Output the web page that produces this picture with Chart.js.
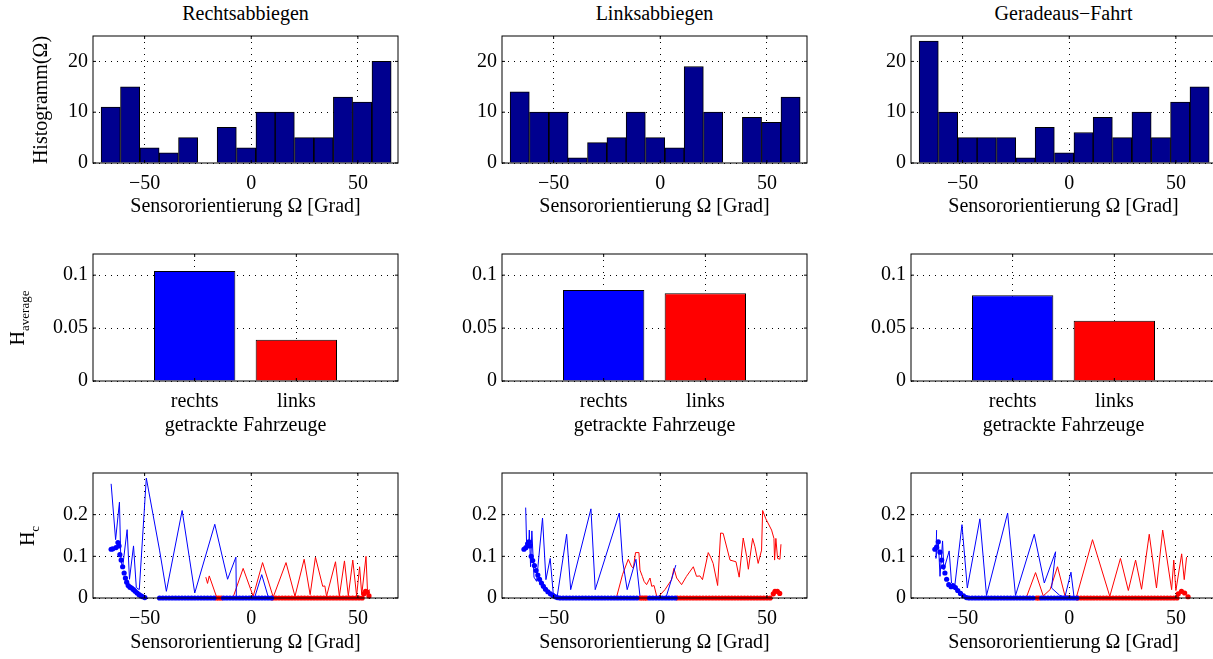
<!DOCTYPE html>
<html>
<head>
<meta charset="utf-8">
<script src="https://cdn.jsdelivr.net/npm/chart.js@4.4.0/dist/chart.umd.min.js"></script>
<style>
html, body { margin: 0; padding: 0; background: #fff; overflow: hidden; }
body { width: 1213px; height: 659px; position: relative; font-family: "Liberation Serif", "Times New Roman", serif; }
canvas { position: absolute; }
.lbl { position: absolute; z-index: 2; font-size: 20px; line-height: 24px; white-space: nowrap; color: #000; transform: translateX(-50%); }
.ylbl { position: absolute; z-index: 2; font-size: 20px; line-height: 24px; white-space: nowrap; color: #000; transform: translate(-50%, -50%) rotate(-90deg); }
.ylbl sub { font-size: 13px; line-height: 0; vertical-align: -5px; }
</style>
</head>
<body>
<script>
// ---- data ----
var panelTitles = ['Rechtsabbiegen', 'Linksabbiegen', 'Geradeaus\u2212Fahrt'];

var binCenters = [-65.9, -56.8, -47.7, -38.7, -29.6, -20.5, -11.5, -2.4, 6.7, 15.7, 24.8, 33.9, 43.0, 52.0, 61.1];
var histRechts = [11, 15, 3, 2, 5, 0, 7, 3, 10, 10, 5, 5, 13, 12, 20];
var histLinks  = [14, 10, 10, 1, 4, 5, 10, 5, 3, 19, 10, 0, 9, 8, 13];
var histGerade = [24, 10, 5, 5, 5, 1, 7, 2, 6, 9, 5, 10, 5, 12, 15];

var vehicleLabels = ['rechts', 'links'];
var avgRechts = [0.104, 0.039];
var avgLinks  = [0.086, 0.083];
var avgGerade = [0.081, 0.057];

var angleTicks = [-50, 0, 50];
var histTicks = [0, 10, 20];
var avgTicks = [0, 0.05, 0.1];
var hcTicks = [0, 0.1, 0.2];

// bottom row, Rechtsabbiegen
var rechtsBlueLine = [[-65.7,0.274],[-63.6,0.14],[-61.8,0.23],[-61.2,0.10],[-60.4,0.07],[-58.2,0.164],[-57.1,0.045],
  [-55.2,0.125],[-53.9,0.025],[-52.5,0.02],[-49.2,0.288],[-43,0.115],[-39.8,0.016],[-32.4,0.21],[-26.5,0.012],[-17.1,0.177],
  [-11.1,0.045],[-7.2,0.098],[-7.0,0.003],[1.7,0.003],[4.9,0.056],[8,0.002]];
var rechtsBlueDots = [[-65.7,0.117],[-64.9,0.118],[-63.4,0.121],[-62.5,0.133],[-62.0,0.125],[-61.6,0.104],[-61.0,0.091],
  [-60.3,0.075],[-59.6,0.06],[-59.0,0.048],[-58.4,0.038],[-57.7,0.03],[-56.9,0.026],[-56.1,0.024],[-55.2,0.02],[-54.4,0.016],
  [-53.5,0.012],[-52.6,0.008],[-51.7,0.005],[-50.8,0.003],[-49.9,0.001],
  [-43,0],[-41.5,0],[-40,0],[-38.5,0],[-37,0],[-35.5,0],[-34,0],[-32.5,0],[-31,0],[-29.5,0],[-28,0],[-26.5,0],[-25,0],
  [-23.5,0],[-22,0],[-20.5,0],[-19,0],[-17.5,0],[-13,0],[-11.5,0],[-10,0],[-8.5,0],[-7,0],[-5.5,0],[-4,0],[-2.5,0],
  [-1,0],[0.5,0],[2,0],[3.5,0],[5,0],[6.5,0],[8,0],[9.5,0]];
var rechtsRedLine = [[-21.3,0.05],[-20.5,0.035],[-19.7,0.053],[-16.3,0.003],[-8.5,0.002],[-3.8,0.071],[0.9,0.004],[5.3,0.085],
  [10.3,0.002],[16.3,0.085],[20.5,0.004],[24.8,0.093],[27.6,0.008],[30.1,0.098],[33.5,0.028],[34.5,0.029],[35.3,0.004],
  [39.5,0.087],[41.3,0.004],[43.7,0.089],[45.5,0.005],[47.6,0.091],[49.4,0.005],[50.8,0.075],[51.8,0.008],[53.8,0.1],
  [54.5,0.016],[55.7,0.02]];
var rechtsRedDots = [[-16.3,0],[-15.2,0],[-14.1,0],
  [10,0],[11.5,0],[13,0],[14.5,0],[16,0],[17.5,0],[19,0],[20.5,0],[22,0],[23.5,0],[25,0],[26.5,0],[28,0],[29.5,0],
  [31,0],[32.5,0],[34,0],[35.5,0],[37,0],[38.5,0],[40,0],[41.5,0],[43,0],[44.5,0],[46,0],[47.5,0],[49,0],[50.5,0],
  [52,0],[52.8,0.01],[53.6,0.016],[54.4,0.014],[55.2,0.005]];

// bottom row, Linksabbiegen
var linksBlueLine = [[-63.1,0.217],[-62.6,0.115],[-61.6,0.135],[-61.4,0.163],[-60.8,0.075],[-60.2,0.161],[-59.2,0.05],
  [-58.0,0.04],[-55.2,0.192],[-53.6,0.044],[-51.6,0.095],[-50.2,0.012],[-48.3,0.004],[-43.9,0.153],[-42,0.02],[-32.5,0.214],
  [-30.5,0.02],[-19.2,0.204],[-17.7,0.091],[-15.5,0.02],[-11.4,0.093],[-9.5,0.004],[2.8,0.003],[7.3,0.079]];
var linksBlueDots = [[-63.9,0.117],[-63.0,0.121],[-62.2,0.13],[-61.6,0.135],[-61.1,0.125],[-60.5,0.1],[-59.8,0.09],
  [-59.0,0.078],[-58.2,0.066],[-57.4,0.055],[-56.6,0.045],[-55.7,0.036],[-54.8,0.028],[-53.8,0.021],[-52.7,0.015],
  [-51.5,0.01],[-50.3,0.006],[-49.2,0.003],[-48.3,0.001],
  [-47,0],[-45.5,0],[-44,0],[-42.5,0],[-41,0],[-39.5,0],[-38,0],[-36.5,0],[-35,0],[-33.5,0],[-32,0],[-30.5,0],[-29,0],
  [-27.5,0],[-26,0],[-24.5,0],[-23,0],[-21.5,0],[-20,0],[-18.5,0],[-17,0],[-15.5,0],[-14,0],[-12.5,0],[-11,0],
  [-5,0],[-3.5,0],[-2,0],[-0.5,0],[1,0],[2.5,0],[4,0],[5.5,0],[7,0]];
var linksRedLine = [[-20.5,0.002],[-17.7,0.056],[-15,0.093],[-13.4,0.075],[-12.6,0.072],[-11.6,0.109],[-10,0.109],
  [-9.5,0.067],[-8.4,0.052],[-7.6,0.04],[-6.4,0.032],[-4.8,0.048],[-4,0.028],[-2.9,0.03],[-1.7,0.005],[-0.9,0.003],
  [2.2,0.02],[5.3,0.044],[6.4,0.071],[7.7,0.048],[10,0.032],[12.3,0.052],[15.5,0.075],[17,0.052],[18.6,0.053],
  [19.8,0.044],[22.5,0.109],[23.6,0.098],[24.8,0.083],[26.9,0.03],[28.3,0.156],[29.5,0.155],[32.7,0.091],[35.5,0.087],
  [37,0.05],[38.9,0.144],[40.5,0.1],[41.3,0.069],[43.3,0.143],[44.4,0.123],[45.9,0.083],[47.5,0.115],[48,0.21],
  [49.5,0.19],[52.2,0.163],[53.3,0.143],[53.6,0.091],[54.2,0.143],[55,0.095],[56.1,0.093],[56.6,0.129]];
var linksRedDots = [[-9.5,0],[-8.4,0],[-7.3,0],[-6.4,0],
  [8,0],[9.5,0],[11,0],[12.5,0],[14,0],[15.5,0],[17,0],[18.5,0],[20,0],[21.5,0],[23,0],[24.5,0],[26,0],[27.5,0],
  [29,0],[30.5,0],[32,0],[33.5,0],[35,0],[36.5,0],[38,0],[39.5,0],[41,0],[42.5,0],[44,0],[45.5,0],[47,0],[48.5,0],
  [50,0],[51.5,0],[53,0.01],[53.8,0.016],[54.9,0.016],[56,0.011]];

// bottom row, Geradeaus-Fahrt
var geradeBlueLine = [[-62.2,0.163],[-62.5,0.095],[-61.4,0.139],[-60.6,0.052],[-59.4,0.137],[-58.8,0.068],[-56.3,0.113],
  [-55.2,0.036],[-53.6,0.032],[-50.3,0.176],[-47.8,0.024],[-41.9,0.19],[-38.8,0.006],[-28.9,0.204],[-25.2,0.006],
  [-16.4,0.153],[-11.7,0.036],[-6.4,0.111],[-8.3,0.024],[-4.4,0.006],[-2,0.003],[0.8,0.062],[2.2,0.004]];
var geradeBlueDots = [[-63,0.117],[-62.2,0.122],[-61.4,0.135],[-60.6,0.11],[-59.8,0.091],[-59.1,0.075],[-58.3,0.06],
  [-57.5,0.045],[-56.5,0.032],[-55.4,0.027],[-54.4,0.029],[-53.4,0.025],[-52.3,0.018],[-51.0,0.011],[-49.6,0.005],
  [-48.2,0.001],
  [-47,0],[-45.5,0],[-44,0],[-42.5,0],[-41,0],[-39.5,0],[-38,0],[-36.5,0],[-35,0],[-33.5,0],[-32,0],[-30.5,0],[-29,0],
  [-27.5,0],[-26,0],[-24.5,0],[-23,0],[-21.5,0],[-20,0],[-18.5,0],[-17,0],[-13,0],[-11.5,0],[-10,0],[-8.5,0],[-7,0],
  [-5.5,0],[-4,0],[-2.5,0],[-1,0],[0.5,0],[2,0],[3.5,0]];
var geradeRedLine = [[-20,0.003],[-15.8,0.061],[-12.2,0.005],[-9,0.02],[-5.5,0.075],[-2,0.005],[3.4,0.003],[10.9,0.14],
  [19,0.004],[24,0.095],[27.7,0.018],[31.1,0.091],[33.9,0.021],[37.5,0.153],[40.9,0.024],[43.8,0.163],[48,0.02],
  [49,0.091],[50,0.018],[52.7,0.106],[53.9,0.044],[55,0.098]];
var geradeRedDots = [[-15.3,0],[-14.3,0],
  [4,0],[5.5,0],[7,0],[8.5,0],[10,0],[11.5,0],[13,0],[14.5,0],[16,0],[17.5,0],[19,0],[20.5,0],[22,0],[23.5,0],
  [25,0],[26.5,0],[28,0],[29.5,0],[31,0],[32.5,0],[34,0],[35.5,0],[37,0],[38.5,0],[40,0],[41.5,0],[43,0],[44.5,0],
  [46,0],[47.5,0],[49,0],[50.5,0],[51.1,0.01],[52.6,0.016],[54.1,0.012],[55.7,0.003]];

// ---- layout ----
var colLeft = [93, 502, 911];
var rowTop = [36, 254, 473];
var rowH = [127, 127, 125];
var plotW = 305;
var FONT = '"Liberation Serif", "Times New Roman", serif';

Chart.defaults.color = '#000';
Chart.defaults.font.family = FONT;
Chart.defaults.font.size = 20;

function fmtAngle(v) { return v < 0 ? '\u2212' + (-v) : String(v); }

function scaleOpts(min, max, tickVals, fmt, isY) {
    return {
        type: 'linear', min: min, max: max, offset: false,
        afterBuildTicks: function (s) { s.ticks = tickVals.map(function (v) { return { value: v }; }); },
        afterFit: function (s) {
            if (isY) s.width = 70; else s.height = 40;
            s.paddingTop = 0; s.paddingBottom = 0; s.paddingLeft = 0; s.paddingRight = 0;
        },
        grid: { color: '#000', lineWidth: 1, drawTicks: false, offset: false, borderDash: [1, 5] },
        border: { display: false, dash: [1, 5] },
        ticks: { color: '#000', padding: isY ? 5 : 9, maxRotation: 0, autoSkip: false, callback: fmt }
    };
}

var framePlugin = {
    id: 'frame',
    afterDatasetsDraw: function (chart) {
        var ctx = chart.ctx, a = chart.chartArea, sx = chart.scales.x, sy = chart.scales.y;
        ctx.save();
        ctx.strokeStyle = '#000';
        ctx.lineWidth = 1;
        ctx.strokeRect(a.left, a.top, a.right - a.left, a.bottom - a.top);
        ctx.beginPath();
        sx.ticks.forEach(function (t) {
            var p = sx.getPixelForValue(t.value);
            ctx.moveTo(p, a.bottom); ctx.lineTo(p, a.bottom - 3);
            ctx.moveTo(p, a.top); ctx.lineTo(p, a.top + 3);
        });
        sy.ticks.forEach(function (t) {
            var p = sy.getPixelForValue(t.value);
            ctx.moveTo(a.left, p); ctx.lineTo(a.left + 3, p);
            ctx.moveTo(a.right, p); ctx.lineTo(a.right - 3, p);
        });
        ctx.stroke();
        ctx.restore();
    }
};

function makeChart(col, row, type, datasets, xs, ys) {
    var cv = document.createElement('canvas');
    var w = plotW + 70 + 15, h = rowH[row] + 50;
    cv.width = w; cv.height = h;
    cv.style.width = w + 'px'; cv.style.height = h + 'px';
    cv.style.left = (colLeft[col] - 70) + 'px';
    cv.style.top = (rowTop[row] - 10) + 'px';
    document.body.appendChild(cv);
    new Chart(cv.getContext('2d'), {
        type: type,
        data: { datasets: datasets },
        options: {
            responsive: false, animation: false, devicePixelRatio: 1,
            layout: { padding: { left: 0, right: 15, top: 10, bottom: 0 } },
            plugins: { legend: { display: false }, tooltip: { enabled: false }, title: { display: false } },
            scales: { x: xs, y: ys }
        },
        plugins: [framePlugin]
    });
}

function pts(arr) { return arr.map(function (p) { return { x: p[0], y: p[1] }; }); }

// top row: histograms
[histRechts, histLinks, histGerade].forEach(function (counts, c) {
    makeChart(c, 0, 'bar', [{
        data: binCenters.map(function (x, i) { return { x: x, y: counts[i] }; }),
        backgroundColor: '#00008F', borderColor: '#000', borderWidth: 1,
        barPercentage: 1, categoryPercentage: 1
    }], scaleOpts(-74.2, 68.8, angleTicks, fmtAngle, false),
       scaleOpts(0, 25, histTicks, function (v) { return String(v); }, true));
});

// middle row: average bars
[avgRechts, avgLinks, avgGerade].forEach(function (vals, c) {
    makeChart(c, 1, 'bar', [{
        data: [{ x: 1, y: vals[0] }, { x: 2, y: vals[1] }],
        backgroundColor: ['#0000FF', '#FF0000'], borderColor: '#000', borderWidth: 1,
        borderSkipped: 'start', barPercentage: 0.8, categoryPercentage: 1
    }], scaleOpts(0, 3, [1, 2], function (v) { return vehicleLabels[v - 1]; }, false),
       scaleOpts(0, 0.12, avgTicks, function (v) { return String(v); }, true));
});

// bottom row: H_c over orientation
[
    [rechtsBlueLine, rechtsBlueDots, rechtsRedLine, rechtsRedDots],
    [linksBlueLine, linksBlueDots, linksRedLine, linksRedDots],
    [geradeBlueLine, geradeBlueDots, geradeRedLine, geradeRedDots]
].forEach(function (s, c) {
    makeChart(c, 2, 'scatter', [
        { data: pts(s[1]), showLine: false, clip: false, pointRadius: 2.6, pointBorderWidth: 0, pointBackgroundColor: '#0000FF', order: 0 },
        { data: pts(s[3]), showLine: false, clip: false, pointRadius: 2.6, pointBorderWidth: 0, pointBackgroundColor: '#FF0000', order: 1 },
        { data: pts(s[0]), showLine: true, pointRadius: 0, borderColor: '#0000FF', borderWidth: 1, order: 2 },
        { data: pts(s[2]), showLine: true, pointRadius: 0, borderColor: '#FF0000', borderWidth: 1, order: 3 }
    ], scaleOpts(-74.2, 68.8, angleTicks, fmtAngle, false),
       scaleOpts(0, 0.3, hcTicks, function (v) { return String(v); }, true));
});

// ---- text ----
function addLabel(cls, html, x, y) {
    var d = document.createElement('div');
    d.className = cls;
    d.innerHTML = html;
    d.style.left = x + 'px';
    d.style.top = y + 'px';
    document.body.appendChild(d);
}
for (var c = 0; c < 3; c++) {
    var cx = colLeft[c] + plotW / 2;
    addLabel('lbl', panelTitles[c], cx, 1);
    addLabel('lbl', 'Sensororientierung \u03A9 [Grad]', cx, 193);
    addLabel('lbl', 'getrackte Fahrzeuge', cx, 412);
    addLabel('lbl', 'Sensororientierung \u03A9 [Grad]', cx, 629);
}
addLabel('ylbl', 'Histogramm(\u03A9)', 40, 99.5);
addLabel('ylbl', 'H<sub>average</sub>', 17, 317.5);
addLabel('ylbl', 'H<sub>c</sub>', 27, 535.5);
</script>
</body>
</html>
